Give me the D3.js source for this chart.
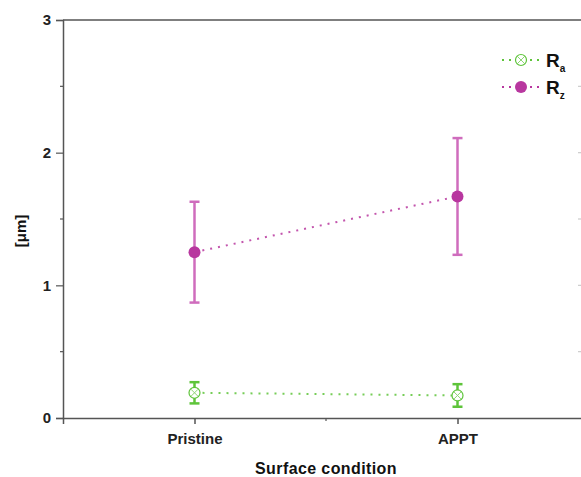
<!DOCTYPE html>
<html>
<head>
<meta charset="utf-8">
<script src="https://cdn.jsdelivr.net/npm/d3@7"></script>
<style>
  body { margin: 0; background: #fff; }
  svg { font-family: "Liberation Sans", Arial, sans-serif; }
</style>
</head>
<body>
<svg width="581" height="477"></svg>
<script>
// surface conditions and roughness values (um)
var conditions = ["Pristine", "APPT"];
var conditionPos = [1, 2];
var raMean = [0.19, 0.17];
var raErr = [0.08, 0.085];
var rzMean = [1.25, 1.67];
var rzErr = [0.38, 0.44];
var yTicks = [0, 1, 2, 3];

var svg = d3.select("svg");

// plot box
var plotLeft = 63, plotRight = 589, plotTop = 20, plotBottom = 418;

var x = d3.scaleLinear().domain([0.5, 2.5]).range([plotLeft, plotRight]);
var y = d3.scaleLinear().domain([0, 3]).range([plotBottom, plotTop]);

var axisColor = "#555";
var pink = "#b8379f", pinkBar = "#cf6cbd";
var green = "#5ec43a";

// frame: top & right lines
svg.append("line").attr("x1", plotLeft).attr("x2", plotRight).attr("y1", plotTop).attr("y2", plotTop)
  .attr("stroke", axisColor).attr("stroke-width", 1.5);
svg.append("line").attr("x1", plotRight).attr("x2", plotRight).attr("y1", plotTop).attr("y2", plotBottom)
  .attr("stroke", axisColor).attr("stroke-width", 1.5);
// right side inward ticks (faint at window edge)
svg.selectAll(".rtick").data(d3.range(0.5, 3, 0.5)).join("line")
  .attr("x1", plotRight).attr("x2", plotRight - 11)
  .attr("y1", d => y(d)).attr("y2", d => y(d))
  .attr("stroke", "#ccc").attr("stroke-width", 1.2);

// y axis
var yAxis = d3.axisLeft(y).tickValues(yTicks).tickFormat(d3.format("d")).tickSize(7).tickPadding(5);
var gy = svg.append("g").attr("transform", "translate(" + plotLeft + ",0)").call(yAxis);
gy.select(".domain").attr("stroke", axisColor).attr("stroke-width", 1.5);
gy.selectAll(".tick line").attr("stroke", axisColor).attr("stroke-width", 1.2);
gy.selectAll(".tick text").attr("font-size", 15).attr("font-weight", "bold").attr("fill", "#222");
// y minor ticks
svg.selectAll(".ymin").data([0.5, 1.5, 2.5]).join("line")
  .attr("x1", plotLeft - 3).attr("x2", plotLeft)
  .attr("y1", d => y(d)).attr("y2", d => y(d))
  .attr("stroke", axisColor).attr("stroke-width", 1.2);

// x axis
var xAxis = d3.axisBottom(x).tickValues(conditionPos).tickFormat((d, i) => conditions[i]).tickSize(6).tickPadding(9);
var gx = svg.append("g").attr("transform", "translate(0," + plotBottom + ")").call(xAxis);
gx.select(".domain").attr("stroke", axisColor).attr("stroke-width", 1.5);
gx.selectAll(".tick line").attr("stroke", axisColor).attr("stroke-width", 1.5);
gx.selectAll(".tick text").attr("font-size", 15).attr("font-weight", "bold").attr("fill", "#222");
svg.append("line").attr("x1", x(1.5)).attr("x2", x(1.5)).attr("y1", plotBottom).attr("y2", plotBottom + 3)
  .attr("stroke", axisColor).attr("stroke-width", 1.2);

// axis titles
svg.append("text").attr("x", x(1.5)).attr("y", 474).attr("text-anchor", "middle")
  .attr("font-size", 16).attr("font-weight", "bold").attr("letter-spacing", 0.4).attr("fill", "#111").text("Surface condition");
svg.append("text").attr("transform", "translate(26,231) rotate(-90)")
  .attr("text-anchor", "middle").attr("font-size", 15).attr("font-weight", "bold").attr("fill", "#111").text("[\u03bcm]");

var line = d3.line().x(d => x(d[0])).y(d => y(d[1]));

function drawSeries(means, errs, color, barColor, filled) {
  var pts = conditionPos.map((p, i) => [p, means[i], errs[i]]);
  svg.append("path").datum(pts).attr("d", line).attr("fill", "none")
    .attr("stroke", color).attr("stroke-width", 2).attr("stroke-dasharray", "2,6").attr("opacity", 0.85);
  var g = svg.append("g");
  pts.forEach(d => {
    var cx = x(d[0]);
    g.append("line").attr("x1", cx).attr("x2", cx).attr("y1", y(d[1] - d[2])).attr("y2", y(d[1] + d[2]))
      .attr("stroke", barColor).attr("stroke-width", 2.5);
    [d[1] - d[2], d[1] + d[2]].forEach(v => {
      g.append("line").attr("x1", cx - 5).attr("x2", cx + 5).attr("y1", y(v)).attr("y2", y(v))
        .attr("stroke", barColor).attr("stroke-width", 2.5);
    });
    drawMarker(g, cx, y(d[1]), color, filled);
  });
}

function drawMarker(g, cx, cy, color, filled) {
  if (filled) {
    g.append("circle").attr("cx", cx).attr("cy", cy).attr("r", 6).attr("fill", color);
  } else {
    g.append("circle").attr("cx", cx).attr("cy", cy).attr("r", 5.5).attr("fill", "#fff")
      .attr("stroke", color).attr("stroke-width", 1.2);
    g.append("path").attr("d", "M" + (cx - 3.5) + "," + (cy - 3.5) + "L" + (cx + 3.5) + "," + (cy + 3.5) +
      "M" + (cx - 3.5) + "," + (cy + 3.5) + "L" + (cx + 3.5) + "," + (cy - 3.5))
      .attr("stroke", color).attr("stroke-width", 1).attr("opacity", 0.7);
  }
}

drawSeries(raMean, raErr, green, green, false);
drawSeries(rzMean, rzErr, pink, pinkBar, true);

// legend
var legend = [["a", green, false, 60], ["z", pink, true, 87]];
legend.forEach(l => {
  svg.append("line").attr("x1", 502).attr("x2", 542).attr("y1", l[3]).attr("y2", l[3])
    .attr("stroke", l[1]).attr("stroke-width", 2).attr("stroke-dasharray", "2,5");
  drawMarker(svg, 521, l[3], l[1], l[2]);
  var t = svg.append("text").attr("x", 546).attr("y", l[3] + 7).attr("font-size", 19)
    .attr("font-weight", "bold").attr("fill", "#111").text("R");
  t.append("tspan").attr("dy", 5).attr("font-size", 10).text(l[0]);
});
</script>
</body>
</html>
